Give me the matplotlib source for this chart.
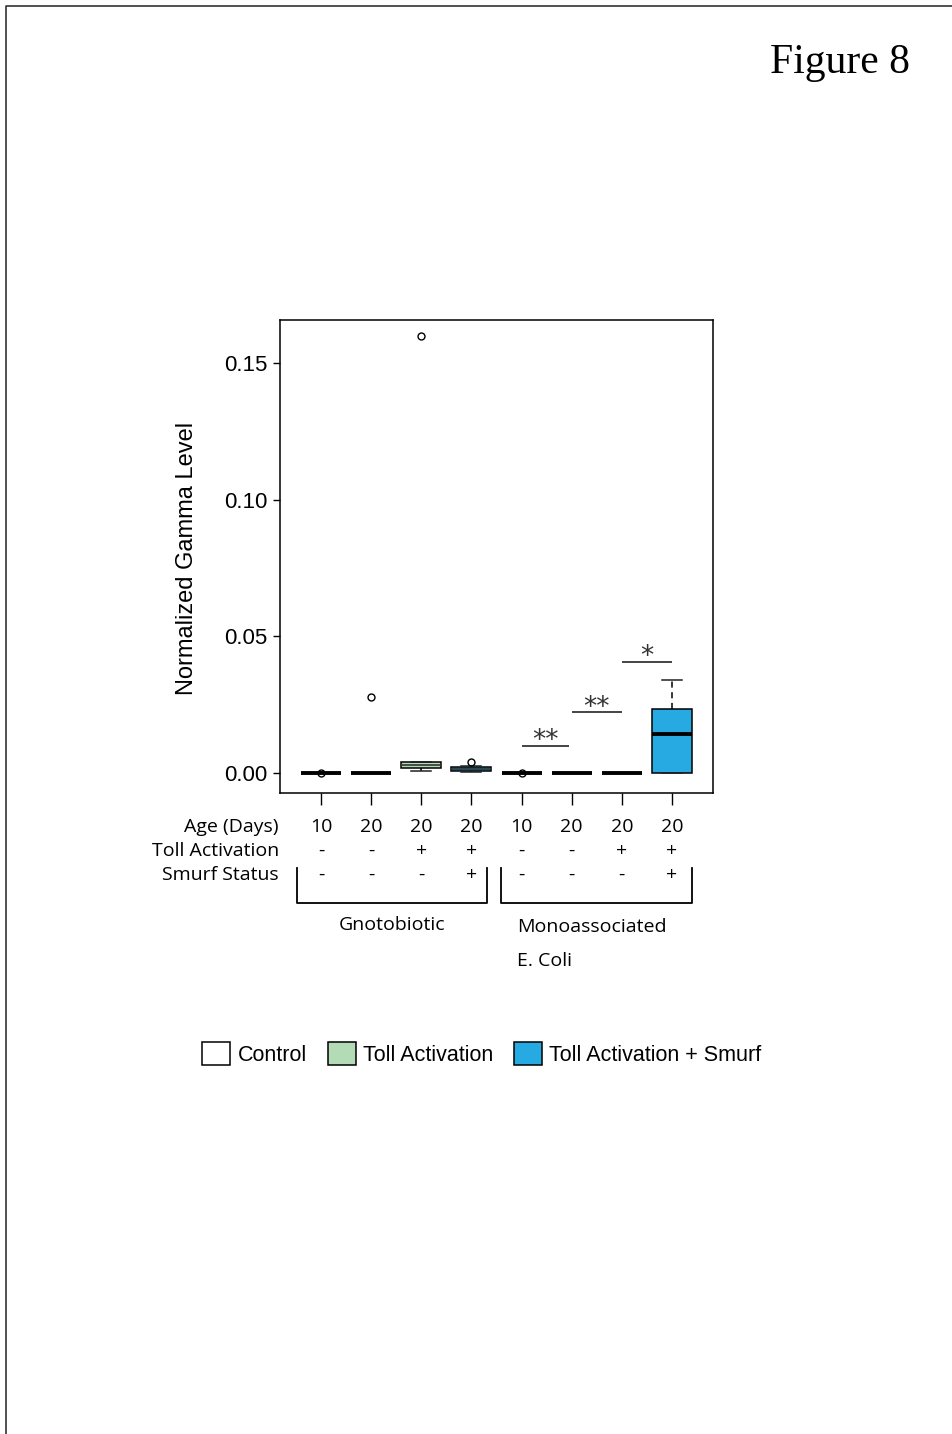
import matplotlib
matplotlib.use('Agg')
import matplotlib.pyplot as plt
from matplotlib.lines import Line2D
from matplotlib.patches import Patch
from matplotlib.transforms import blended_transform_factory

# Box summaries per group (precomputed quartiles / whiskers / outliers)
groups = ['G10', 'G20', 'G20T', 'G20TS', 'M10', 'M20', 'M20T', 'M20TS']
q1 = [0.0, 0.0, 0.0018, 0.0008, 0.0, 0.0, 0.0, 0.0]
med = [0.0, 0.0, 0.0028, 0.0016, 0.0, 0.0, 0.0, 0.0142]
q3 = [0.0, 0.0, 0.0040, 0.0022, 0.0, 0.0, 0.0, 0.0234]
whislo = [0.0, 0.0, 0.0008, 0.0004, 0.0, 0.0, 0.0, 0.0]
whishi = [0.0, 0.0, 0.0040, 0.0026, 0.0, 0.0, 0.0, 0.0340]
fliers = [[0.0], [0.0278], [0.160], [0.0040], [0.0], [], [], []]
box_kind = ['control', 'control', 'toll', 'smurf', 'control', 'control', 'toll', 'smurf']

colors = {'control': 'white', 'toll': '#b3dbb6', 'smurf': '#27aae1'}

# significance brackets: (x start, x end, height, label)
sig_x0 = [5.0, 6.0, 7.0]
sig_x1 = [5.95, 7.0, 8.0]
sig_y = [0.0099, 0.0223, 0.0406]
sig_lab = ['**', '**', '*']

age = ['10', '20', '20', '20', '10', '20', '20', '20']
toll = ['-', '-', '+', '+', '-', '-', '+', '+']
smurf = ['-', '-', '-', '+', '-', '-', '-', '+']
row_titles = ['Age (Days)', 'Toll Activation', 'Smurf Status']

legend_labels = ['Control', 'Toll Activation', 'Toll Activation + Smurf']
legend_colors = ['white', '#b3dbb6', '#27aae1']

W, H = 952, 1434
fig = plt.figure(figsize=(W / 100, H / 100), dpi=100)


def fy(py):
    return 1 - py / H


def fx(px):
    return px / W


ax = fig.add_axes([fx(280), fy(793), fx(713) - fx(280), fy(320) - fy(793)])

stats = []
for i in range(len(groups)):
    stats.append(dict(med=med[i], q1=q1[i], q3=q3[i], whislo=whislo[i],
                      whishi=whishi[i], fliers=fliers[i], label=groups[i]))
pos = list(range(1, len(groups) + 1))
bp = ax.bxp(stats, positions=pos, widths=0.8, patch_artist=True,
            boxprops=dict(linewidth=1.1, edgecolor='black'),
            medianprops=dict(color='black', linewidth=2.8),
            whiskerprops=dict(color='black', linewidth=1.1, linestyle=(0, (4, 3))),
            capprops=dict(color='#222222', linewidth=1.1),
            flierprops=dict(marker='o', markerfacecolor='none', markeredgecolor='black',
                            markersize=5, markeredgewidth=1.0),
            capwidths=0.4)
for patch, k in zip(bp['boxes'], box_kind):
    patch.set_facecolor(colors[k])
# thin medians on the very small non-empty boxes
for i, line in enumerate(bp['medians']):
    if 0 < q3[i] - q1[i] < 0.005:
        line.set_linewidth(1.2)
        line.set_color('#333333')

for x0, x1, y, lab in zip(sig_x0, sig_x1, sig_y, sig_lab):
    ax.plot([x0, x1], [y, y], color='#444444', lw=1.4, solid_capstyle='butt')
    ax.text((x0 + x1) / 2, y - 0.0009, lab, ha='center', va='baseline',
            fontsize=19, color='#333333', family='DejaVu Sans')

ax.set_xlim(0.18, 8.82)
ax.set_ylim(-0.0073, 0.1657)
ax.set_yticks([0.0, 0.05, 0.10, 0.15])
ax.set_yticklabels(['0.00', '0.05', '0.10', '0.15'], family='Liberation Sans', fontsize=16)
ax.set_xticks(pos)
ax.set_xticklabels([])
ax.tick_params(axis='y', length=5, width=1.0, pad=4)
ax.tick_params(axis='x', length=8.5, width=1.0)
for s in ax.spines.values():
    s.set_linewidth(1.1)

fig.text(fx(187), fy(558), 'Normalized Gamma Level', rotation=90, ha='center',
         va='center', fontsize=17, family='Liberation Sans')

# condition table under the axis
trans = blended_transform_factory(ax.transData, fig.transFigure)
row_base = [832, 856, 880]
for title, vals, yb in zip(row_titles, [age, toll, smurf], row_base):
    fig.text(fx(279), fy(yb), title, ha='right', va='baseline',
             fontsize=14, family='Open Sans')
    for p, v in zip(pos, vals):
        ax.text(p, fy(yb), v, transform=trans, ha='center', va='baseline',
                fontsize=14, family='Open Sans', clip_on=False)

# group brackets
br_left = [0.52, 4.58]
br_right = [4.32, 8.40]
for a, b in zip(br_left, br_right):
    ax.add_line(Line2D([a, a, b, b], [fy(868), fy(903), fy(903), fy(868)],
                       transform=trans, color='black', lw=1.3, clip_on=False))

fig.text(fx(392), fy(930), 'Gnotobiotic', ha='center', va='baseline',
         fontsize=14, family='Open Sans')
fig.text(fx(517), fy(932), 'Monoassociated', ha='left', va='baseline',
         fontsize=14, family='Open Sans')
fig.text(fx(517), fy(966), 'E. Coli', ha='left', va='baseline',
         fontsize=14, family='Open Sans')

handles = [Patch(facecolor=c, edgecolor='black', linewidth=1.1) for c in legend_colors]
fig.legend(handles, legend_labels, loc='center', bbox_to_anchor=(fx(482), fy(1054)),
           ncol=3, frameon=False, prop=dict(family='Liberation Sans', size=15.5),
           handlelength=1.3, handleheight=1.3, handletextpad=0.35,
           columnspacing=0.95, borderpad=0)

fig.text(fx(910), fy(73), 'Figure 8', ha='right', va='baseline',
         fontsize=30, family='Liberation Serif')

# page frame (top and left edges)
fig.add_artist(Line2D([fx(6), fx(6), 1.0], [0.0, fy(6), fy(6)],
                      transform=fig.transFigure, color='#333333', lw=1.2))

fig.savefig('out.png', dpi=100)
